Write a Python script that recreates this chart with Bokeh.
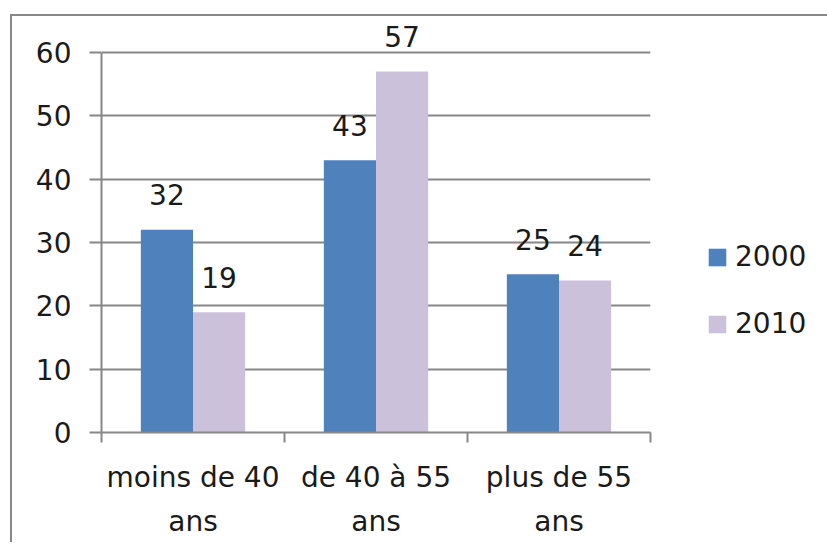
import numpy as np
from bokeh.plotting import figure
from bokeh.models import (ColumnDataSource, FixedTicker, LabelSet, Legend, LegendItem, Range1d)
from bokeh.core.properties import value
from bokeh.embed import file_html
from bokeh.resources import INLINE

categories = ["moins de 40\nans", "de 40 à 55\nans", "plus de 55\nans"]
series_names = ["2000", "2010"]
values_2000 = [32, 43, 25]
values_2010 = [19, 57, 24]
y_ticks = [0, 10, 20, 30, 40, 50, 60]

BLUE = "#4F81BD"
LILAC = "#CCC1DA"
GRAY = "#878787"
TXT = "#1a1a1a"
FONT = "DejaVu Sans"
FS = "28px"

idx = np.arange(len(categories))
centers = idx + 0.5
dodge = 0.1425
bw = 0.285

src1 = ColumnDataSource(dict(x=centers - dodge, v=values_2000, t=[str(v) for v in values_2000]))
src2 = ColumnDataSource(dict(x=centers + dodge, v=values_2010, t=[str(v) for v in values_2010]))

FRAME_H = 416
Y_TOP = max(y_ticks) * FRAME_H / 380.0

p = figure(frame_width=549, frame_height=FRAME_H,
           x_range=Range1d(0, len(categories)), y_range=Range1d(0, Y_TOP),
           output_backend="svg", toolbar_location=None,
           min_border_left=89, min_border_right=177, min_border_top=0, min_border_bottom=110,
           background_fill_color="white", border_fill_color="white")
p.styles = {"margin-left": "10px", "margin-top": "14px",
            "border-left": f"2px solid {GRAY}", "border-top": f"2px solid {GRAY}"}
p.outline_line_color = None
p.xgrid.visible = False
p.ygrid.grid_line_color = GRAY
p.ygrid.grid_line_width = 2
p.ygrid.ticker = FixedTicker(ticks=y_ticks)

r1 = p.vbar(x="x", top="v", width=bw, source=src1, fill_color=BLUE, line_color=None)
r2 = p.vbar(x="x", top="v", width=bw, source=src2, fill_color=LILAC, line_color=None)

for s in (src1, src2):
    p.add_layout(LabelSet(x="x", y="v", text="t", source=s, y_offset=35,
                          text_align="center", text_baseline="middle",
                          text_font=value(FONT), text_font_size=value(FS), text_color=TXT))

# y axis
ya = p.yaxis[0]
ya.ticker = FixedTicker(ticks=y_ticks)
ya.bounds = (0, max(y_ticks))
ya.axis_line_color = GRAY
ya.axis_line_width = 2
ya.major_tick_line_color = GRAY
ya.major_tick_line_width = 2
ya.major_tick_out = 12
ya.major_tick_in = 0
ya.minor_tick_line_color = None
ya.major_label_standoff = 18
ya.major_label_text_font = FONT
ya.major_label_text_font_size = FS
ya.major_label_text_color = TXT

# x axis
xa = p.xaxis[0]
xa.ticker = FixedTicker(ticks=list(centers), minor_ticks=list(range(len(categories) + 1)))
xa.major_label_overrides = {float(c): lab for c, lab in zip(centers, categories)}
xa.axis_line_color = GRAY
xa.axis_line_width = 2
xa.major_tick_line_color = None
xa.major_tick_out = 0
xa.major_tick_in = 0
xa.minor_tick_line_color = GRAY
xa.minor_tick_line_width = 2
xa.minor_tick_out = 10
xa.minor_tick_in = 0
xa.major_label_standoff = 18
xa.major_label_text_font = FONT
xa.major_label_text_font_size = FS
xa.major_label_text_color = TXT
xa.major_label_text_line_height = 1.36

legend = Legend(items=[LegendItem(label=series_names[0], renderers=[r1]),
                       LegendItem(label=series_names[1], renderers=[r2])],
                location=(56, 92), orientation="vertical",
                glyph_width=22, glyph_height=22, label_height=18, spacing=34,
                label_standoff=7, padding=0, margin=0,
                border_line_color=None, background_fill_alpha=0,
                label_text_font=FONT, label_text_font_size=FS, label_text_color=TXT)
p.add_layout(legend, "right")

open("out.html", "w").write(file_html(p, INLINE))
